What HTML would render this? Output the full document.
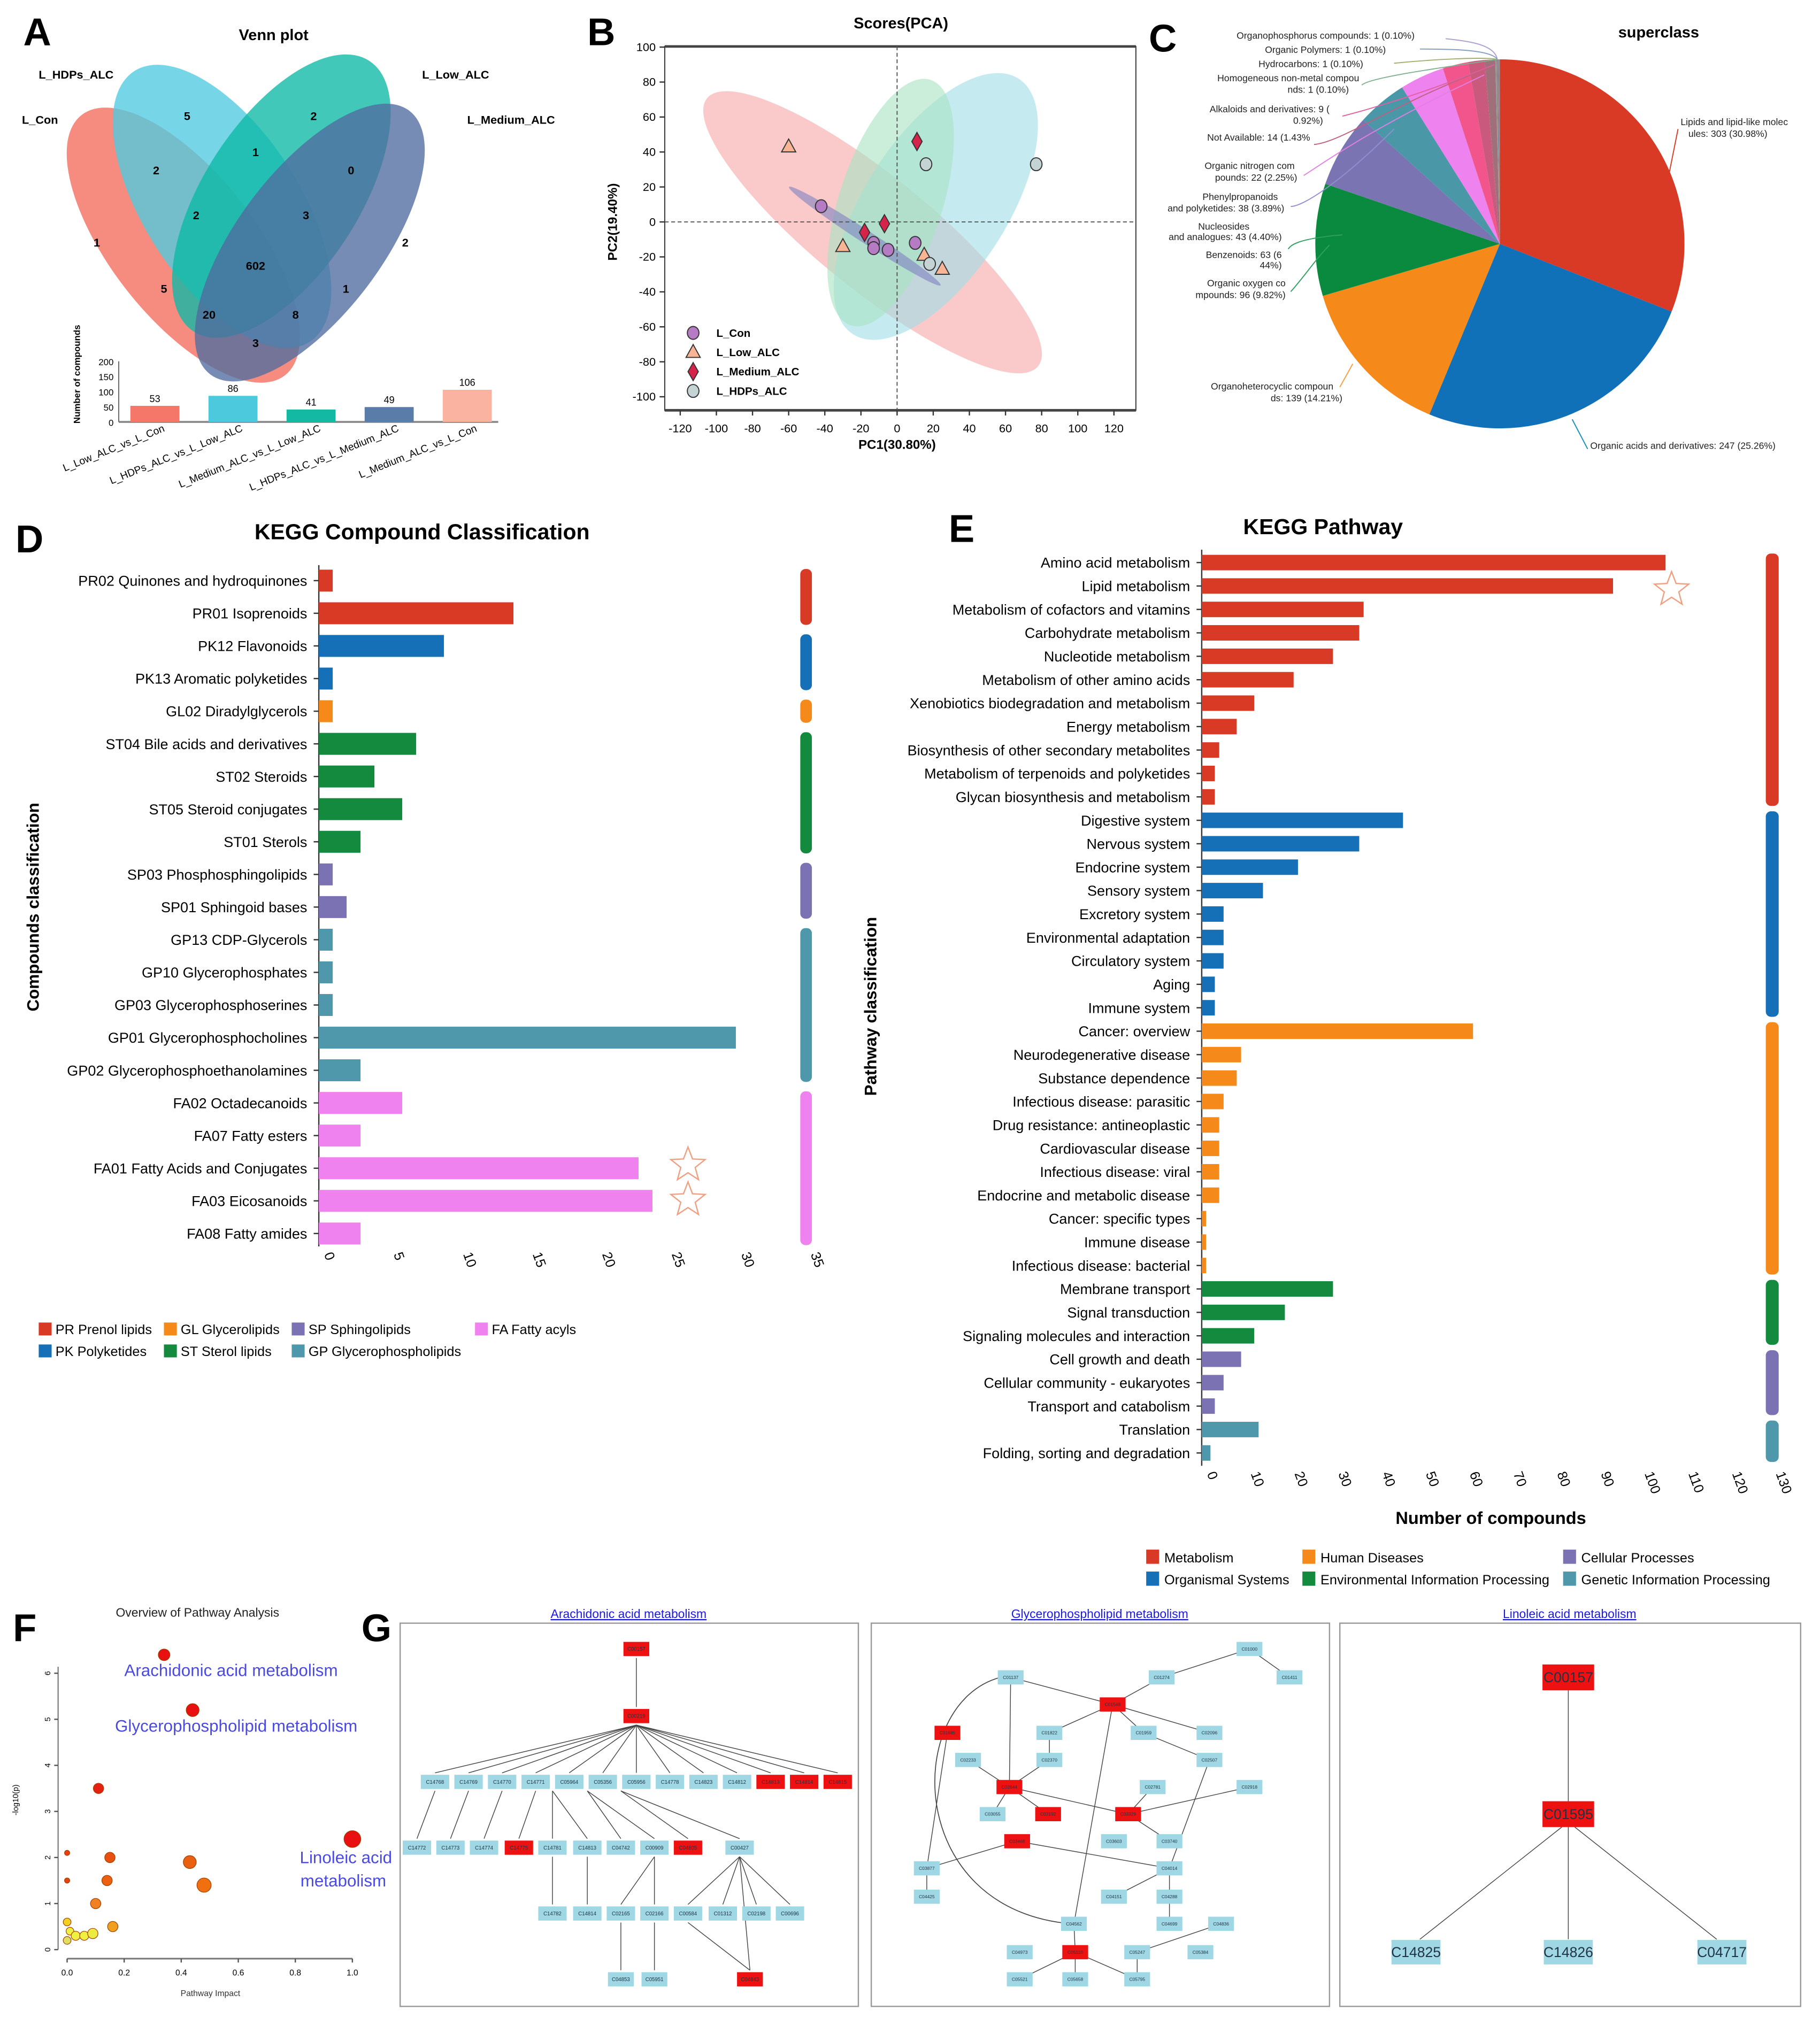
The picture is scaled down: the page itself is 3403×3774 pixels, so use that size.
<!DOCTYPE html>
<html><head><meta charset="utf-8">
<style>
html,body{margin:0;padding:0;background:#fff;}
svg{display:block;font-family:"Liberation Sans",Arial,sans-serif;}
</style></head>
<body>
<svg id="fig" xmlns="http://www.w3.org/2000/svg" width="3403" height="3774" viewBox="0 0 1410 1564" preserveAspectRatio="none">
<rect x="0" y="0" width="1410" height="1564" fill="#fff"/>
<text x="18" y="35" font-size="30" font-weight="bold">A</text>
<text x="455" y="35" font-size="30" font-weight="bold">B</text>
<text x="890" y="40" font-size="30" font-weight="bold">C</text>
<text x="12" y="428" font-size="30" font-weight="bold">D</text>
<text x="735" y="420" font-size="30" font-weight="bold">E</text>
<text x="10" y="1272" font-size="30" font-weight="bold">F</text>
<text x="280" y="1272" font-size="30" font-weight="bold">G</text>
<text x="212" y="31" font-size="12" font-weight="bold" text-anchor="middle">Venn plot</text>
<text x="698" y="22" font-size="12" font-weight="bold" text-anchor="middle">Scores(PCA)</text>
<text x="1285" y="29" font-size="12" font-weight="bold" text-anchor="middle">superclass</text>
<text x="327" y="418" font-size="17" font-weight="bold" text-anchor="middle">KEGG Compound Classification</text>
<text x="1025" y="414" font-size="17" font-weight="bold" text-anchor="middle">KEGG Pathway</text>
<g id="root"></g>
</svg>
<script>
const NS='http://www.w3.org/2000/svg';
const root=document.getElementById('root');
function mk(tag,attrs,parent){const e=document.createElementNS(NS,tag);for(const k in attrs)e.setAttribute(k,attrs[k]);(parent||root).appendChild(e);return e;}
function tx(x,y,s,size,extra,parent){const e=mk('text',Object.assign({x:x,y:y,'font-size':size},extra||{}),parent);e.textContent=s;return e;}

/* ---------------- Panel A: Venn ---------------- */
const vennSets=['L_Con','L_HDPs_ALC','L_Low_ALC','L_Medium_ALC'];
const vennColors=['#f26b5b','#4fcbe0','#0db8a5','#4f6b9f'];
const vennEll=[[142,190,128,56,52],[172,160,125,60,57],[218,152,125,60,-57],[240,188,128,56,-53]];
vennEll.forEach((e,i)=>{
  const el=mk('ellipse',{cx:e[0],cy:e[1],rx:e[2],ry:e[3],transform:`rotate(${e[4]} ${e[0]} ${e[1]})`,fill:vennColors[i],'fill-opacity':0.78});
  
  
});
[['L_Con',17,96],['L_HDPs_ALC',30,61],['L_Low_ALC',327,61],['L_Medium_ALC',362,96]].forEach(l=>{
  const t=tx(l[1],l[2],l[0],9,{'font-weight':'bold'});
  
  
});
const vennCounts=['5','2','1','2','0','1','2','3','2','602','5','1','20','8','3'];
const vennCountPos=[[145,93],[243,93],[198,121],[121,135],[272,135],[75,191],[152,170],[237,170],[314,191],[198,209],[127,227],[268,227],[162,247],[229,247],[198,269]];
vennCounts.forEach((c,i)=>{
  const t=tx(vennCountPos[i][0],vennCountPos[i][1],c,9,{'font-weight':'bold','text-anchor':'middle'});
  
  
});
/* Venn bar chart */
const vbCats=['L_Low_ALC_vs_L_Con','L_HDPs_ALC_vs_L_Low_ALC','L_Medium_ALC_vs_L_Low_ALC','L_HDPs_ALC_vs_L_Medium_ALC','L_Medium_ALC_vs_L_Con'];
const vbVals=[53,86,41,49,106];
const vbTicks=[0,50,100,150,200];
const vbColors=['#f4776a','#4cc9dc','#13b9a3','#5a7ca8','#f9b3a0'];
const vbX=i=>120+i*60.5, vbY=v=>327-v*0.235;
mk('line',{x1:92,y1:327,x2:386,y2:327,stroke:'#888','stroke-width':1.5});
mk('line',{x1:92,y1:vbY(200),x2:92,y2:327,stroke:'#666','stroke-width':0.8});
vbTicks.forEach(t=>{const e=tx(88,vbY(t)+3,String(t),7,{'text-anchor':'end'});});
const vyt=tx(0,0,'Number of compounds',7,{'font-weight':'bold','text-anchor':'middle',transform:'translate(62,290) rotate(-90)'});


vbVals.forEach((v,i)=>{
  const b=mk('rect',{x:vbX(i)-19,y:vbY(v),width:38,height:327-vbY(v),fill:vbColors[i]});
  
  
  const l=tx(vbX(i),vbY(v)-3,String(v),7.5,{'text-anchor':'middle'});
  
  
  const c=tx(0,0,vbCats[i],8,{'text-anchor':'end',transform:`translate(${vbX(i)+8},334) rotate(-22)`});
  
  
});

/* ---------------- Panel B: PCA ---------------- */
const pcaTicksX=[-120,-100,-80,-60,-40,-20,0,20,40,60,80,100,120];
const pcaTicksY=[100,80,60,40,20,0,-20,-40,-60,-80,-100];
const conX=[-42,-13,-13,-5,10], conY=[9,-12,-15,-16,-12];
const lowX=[-60,-30,15,25], lowY=[43,-14,-19,-27];
const medX=[11,-18,-7], medY=[46,-6,-1];
const hdpX=[16,77,18], hdpY=[33,33,-24];
const px=v=>695+v*1.4, py=v=>172-v*1.355;
mk('rect',{x:515,y:36,width:365,height:282,fill:'none',stroke:'#333','stroke-width':0.8});
mk('line',{x1:515,y1:36,x2:880,y2:36,stroke:'#444','stroke-width':2});
mk('line',{x1:515,y1:318,x2:880,y2:318,stroke:'#444','stroke-width':2});
[[676,180,165,44,39,'#f7a7a7','pca-ellipse-con-low'],[725,160,118,55,-57,'#9fdde8','pca-ellipse-hdps'],[690,157,100,40,-72,'#a6e2c2','pca-ellipse-medium'],[670,183,70,5,33,'#7f80c0','pca-ellipse-con']].forEach(e=>{
  const el=mk('ellipse',{cx:e[0],cy:e[1],rx:e[2],ry:e[3],transform:`rotate(${e[4]} ${e[0]} ${e[1]})`,fill:e[5],'fill-opacity':0.6});
  
  
});
mk('line',{x1:515,y1:py(0),x2:880,y2:py(0),stroke:'#555','stroke-dasharray':'3,2','stroke-width':0.8});
mk('line',{x1:px(0),y1:36,x2:px(0),y2:318,stroke:'#555','stroke-dasharray':'3,2','stroke-width':0.8});
pcaTicksX.forEach(t=>{mk('line',{x1:px(t),y1:318,x2:px(t),y2:322,stroke:'#333'});const e=tx(px(t),335,String(t),9,{'text-anchor':'middle'});});
pcaTicksY.forEach(t=>{mk('line',{x1:511,y1:py(t),x2:515,y2:py(t),stroke:'#333'});const e=tx(508,py(t)+3,String(t),9,{'text-anchor':'end'});});
const pxt=tx(695,348,'PC1(30.80%)',10,{'font-weight':'bold','text-anchor':'middle'});


const pyt=tx(0,0,'PC2(19.40%)',10,{'font-weight':'bold','text-anchor':'middle',transform:'translate(478,172) rotate(-90)'});


function marker(shape,x,y,fill,g){
  if(shape==='c')return mk('ellipse',{cx:x,cy:y,rx:4.5,ry:5,fill:fill,stroke:'#333','stroke-width':0.8},g);
  if(shape==='t')return mk('polygon',{points:`${x},${y-6} ${x-5.5},${y+4} ${x+5.5},${y+4}`,fill:fill,stroke:'#333','stroke-width':0.8},g);
  if(shape==='d')return mk('polygon',{points:`${x},${y-7} ${x-4},${y} ${x},${y+7} ${x+4},${y}`,fill:fill,stroke:'#333','stroke-width':0.8},g);
}
[[conX,conY,'c','#b57cc4','pca-point-l-con'],[lowX,lowY,'t','#f7b595','pca-point-l-low-alc'],[medX,medY,'d','#d6234a','pca-point-l-medium-alc'],[hdpX,hdpY,'c','#c4d4d4','pca-point-l-hdps-alc']].forEach(s=>{
  s[0].forEach((v,i)=>{const m=marker(s[2],px(v),py(s[1][i]),s[3]);});
});
[['L_Con','c','#b57cc4'],['L_Low_ALC','t','#f7b595'],['L_Medium_ALC','d','#d6234a'],['L_HDPs_ALC','c','#c4d4d4']].forEach((l,i)=>{
  const y=258+i*15;
  const m=marker(l[1],537,y,l[2]);
  
  
  const t=tx(555,y+3,l[0],8.5,{'font-weight':'bold'});
  
  
});

/* ---------------- Panel C: Pie ---------------- */
const pieCats=['Lipids and lipid-like molecules','Organic acids and derivatives','Organoheterocyclic compounds','Organic oxygen compounds','Benzenoids','Nucleosides and analogues','Phenylpropanoids and polyketides','Organic nitrogen compounds','Not Available','Alkaloids and derivatives','Homogeneous non-metal compounds','Hydrocarbons','Organic Polymers','Organophosphorus compounds'];
const pieVals=[30.98,25.26,14.21,9.82,6.44,4.40,3.89,2.25,1.43,0.92,0.10,0.10,0.10,0.10];
const pieColors=['#d83a26','#1070b8','#f5891a','#0a8a3e','#7b74b3','#4a97a8','#ee82ee','#f2558c','#c95a7e','#a0707a','#8aa0a0','#a08070','#8080a0','#909090'];
const pcx=1162,pcy=189,pr=143;
let acc=0;const total=pieVals.reduce((a,b)=>a+b,0);
pieVals.forEach((v,i)=>{
  const a0=acc/total*2*Math.PI-Math.PI/2;acc+=v;const a1=acc/total*2*Math.PI-Math.PI/2;
  const large=(a1-a0)>Math.PI?1:0;
  const d=`M${pcx},${pcy} L${pcx+pr*Math.cos(a0)},${pcy+pr*Math.sin(a0)} A${pr},${pr} 0 ${large} 1 ${pcx+pr*Math.cos(a1)},${pcy+pr*Math.sin(a1)} Z`;
  const p=mk('path',{d:d,fill:pieColors[i]});
  
  
});
const pieLabels=[[958,30,'Organophosphorus compounds: 1 (0.10%)','start'],[980,41,'Organic Polymers: 1 (0.10%)','start'],[975,52,'Hydrocarbons: 1 (0.10%)','start'],[1053,63,'Homogeneous non-metal compou','end'],[1045,72,'nds: 1 (0.10%)','end'],[1030,87,'Alkaloids and derivatives: 9 (','end'],[1025,96,'0.92%)','end'],[1015,109,'Not Available: 14 (1.43%','end'],[1003,131,'Organic nitrogen com','end'],[1005,140,'pounds: 22 (2.25%)','end'],[990,155,'Phenylpropanoids','end'],[995,164,'and polyketides: 38 (3.89%)','end'],[968,178,'Nucleosides','end'],[993,186,'and analogues: 43 (4.40%)','end'],[993,200,'Benzenoids: 63 (6','end'],[993,208,'44%)','end'],[996,222,'Organic oxygen co','end'],[996,231,'mpounds: 96 (9.82%)','end'],[1033,302,'Organoheterocyclic compoun','end'],[1040,311,'ds: 139 (14.21%)','end'],[1302,97,'Lipids and lipid-like molec','start'],[1308,106,'ules: 303 (30.98%)','start'],[1232,348,'Organic acids and derivatives: 247 (25.26%)','start']];
pieLabels.forEach(l=>{const t=tx(l[0],l[1],l[2],7.3,{'text-anchor':l[3],fill:'#222'});});
[['M1160,46 C1158,35 1140,32 1120,30','#b0a0d0'],['M1160,46 C1155,38 1120,38 1100,38','#88a0c0'],['M1160,46 C1150,44 1110,46 1080,49','#a0b070'],['M1160,46 C1120,52 1060,60 1055,66','#80b090'],['M1158,50 C1110,70 1060,85 1040,90','#e060a0'],['M1155,52 C1080,80 1040,110 1018,112','#c06080'],['M1150,58 C1060,100 1020,130 1010,136','#e080e0'],['M1080,100 C1040,140 1010,160 1000,160','#9090d0'],['M1040,182 C1005,185 1000,190 998,193','#30a060'],['M1030,190 C1020,200 1010,215 1000,226','#30a060'],['M1292,140 L1300,100','#d83a26'],['M1218,325 L1230,348','#1090c0'],['M1048,282 L1038,300','#f5a040']].forEach(p=>{const e=mk('path',{d:p[0],stroke:p[1],fill:'none','stroke-width':0.8});});

/* ---------------- Panel D ---------------- */
const dCats=['PR02 Quinones and hydroquinones','PR01 Isoprenoids','PK12 Flavonoids','PK13 Aromatic polyketides','GL02 Diradylglycerols','ST04 Bile acids and derivatives','ST02 Steroids','ST05 Steroid conjugates','ST01 Sterols','SP03 Phosphosphingolipids','SP01 Sphingoid bases','GP13 CDP-Glycerols','GP10 Glycerophosphates','GP03 Glycerophosphoserines','GP01 Glycerophosphocholines','GP02 Glycerophosphoethanolamines','FA02 Octadecanoids','FA07 Fatty esters','FA01 Fatty Acids and Conjugates','FA03 Eicosanoids','FA08 Fatty amides'];
const dVals=[1,14,9,1,1,7,4,6,3,1,2,1,1,1,30,3,6,3,23,24,3];
const dGroups=['PR','PR','PK','PK','GL','ST','ST','ST','ST','SP','SP','GP','GP','GP','GP','GP','FA','FA','FA','FA','FA'];
const dTicks=[0,5,10,15,20,25,30,35];
const dColor={PR:'#d83a26',PK:'#1570b8',GL:'#f5891a',ST:'#138a3e',SP:'#7b72b3',GP:'#4f98ac',FA:'#ef82ee'};
const xD=v=>247+v*10.77, yD=i=>450+i*25.3;
mk('line',{x1:247,y1:438,x2:247,y2:966,stroke:'#333','stroke-width':1});
dCats.forEach((c,i)=>{
  const b=mk('rect',{x:247,y:yD(i)-8.5,width:xD(dVals[i])-247,height:17,fill:dColor[dGroups[i]]});
  
  
  mk('line',{x1:243,y1:yD(i),x2:247,y2:yD(i),stroke:'#333'});
  const t=tx(238,yD(i)+4,c,11.2,{'text-anchor':'end'});
  
  
});
dTicks.forEach(t=>{const e=tx(0,0,String(t),10.5,{transform:`translate(${xD(t)+4},972) rotate(70)`});});
{let s=0;for(let i=1;i<=dGroups.length;i++){if(i===dGroups.length||dGroups[i]!==dGroups[s]){const r=mk('rect',{x:620,y:yD(s)-9,width:9,height:yD(i-1)-yD(s)+18,rx:4,fill:dColor[dGroups[s]]});s=i;}}}
const dyt=tx(0,0,'Compounds classification',13,{'font-weight':'bold','text-anchor':'middle',transform:'translate(30,703) rotate(-90)'});


function star(cx,cy,r,name){let pts=[];for(let k=0;k<10;k++){const a=-Math.PI/2+k*Math.PI/5;const rr=k%2?r*0.42:r;pts.push((cx+rr*Math.cos(a)).toFixed(1)+','+(cy+rr*Math.sin(a)).toFixed(1));}const s=mk('polygon',{points:pts.join(' '),fill:'none',stroke:'#f0a080','stroke-width':1});}
star(533,903,14,'star-fa01');star(533,930,14,'star-fa03');
[['PR Prenol lipids','PR',30,1034],['GL Glycerolipids','GL',127,1034],['SP Sphingolipids','SP',226,1034],['FA Fatty acyls','FA',368,1034],['PK Polyketides','PK',30,1051],['ST Sterol lipids','ST',127,1051],['GP Glycerophospholipids','GP',226,1051]].forEach(l=>{
  const r=mk('rect',{x:l[2],y:l[3]-9,width:10,height:10,fill:dColor[l[1]]});
  
  
  const t=tx(l[2]+13,l[3],l[0],10.5);
  
  
});

/* ---------------- Panel E ---------------- */
const eCats=['Amino acid metabolism','Lipid metabolism','Metabolism of cofactors and vitamins','Carbohydrate metabolism','Nucleotide metabolism','Metabolism of other amino acids','Xenobiotics biodegradation and metabolism','Energy metabolism','Biosynthesis of other secondary metabolites','Metabolism of terpenoids and polyketides','Glycan biosynthesis and metabolism','Digestive system','Nervous system','Endocrine system','Sensory system','Excretory system','Environmental adaptation','Circulatory system','Aging','Immune system','Cancer: overview','Neurodegenerative disease','Substance dependence','Infectious disease: parasitic','Drug resistance: antineoplastic','Cardiovascular disease','Infectious disease: viral','Endocrine and metabolic disease','Cancer: specific types','Immune disease','Infectious disease: bacterial','Membrane transport','Signal transduction','Signaling molecules and interaction','Cell growth and death','Cellular community - eukaryotes','Transport and catabolism','Translation','Folding, sorting and degradation'];
const eVals=[106,94,37,36,30,21,12,8,4,3,3,46,36,22,14,5,5,5,3,3,62,9,8,5,4,4,4,4,1,1,1,30,19,12,9,5,3,13,2];
const eGroups=['M','M','M','M','M','M','M','M','M','M','M','O','O','O','O','O','O','O','O','O','H','H','H','H','H','H','H','H','H','H','H','E','E','E','C','C','C','G','G'];
const eTicks=[0,10,20,30,40,50,60,70,80,90,100,110,120,130];
const eColor={M:'#d83a26',O:'#1570b8',H:'#f5891a',E:'#138a3e',C:'#7b72b3',G:'#4f98ac'};
const xE=v=>931+v*3.39, yE=i=>436+i*18.16;
mk('line',{x1:931,y1:426,x2:931,y2:1136,stroke:'#333','stroke-width':1});
eCats.forEach((c,i)=>{
  const b=mk('rect',{x:931,y:yE(i)-6,width:xE(eVals[i])-931,height:12,fill:eColor[eGroups[i]]});
  
  
  mk('line',{x1:927,y1:yE(i),x2:931,y2:yE(i),stroke:'#333'});
  const t=tx(922,yE(i)+4,c,11.2,{'text-anchor':'end'});
  
  
});
eTicks.forEach(t=>{const e=tx(0,0,String(t),10.5,{transform:`translate(${xE(t)+4},1142) rotate(70)`});});
{let s=0;for(let i=1;i<=eGroups.length;i++){if(i===eGroups.length||eGroups[i]!==eGroups[s]){const r=mk('rect',{x:1368,y:yE(s)-7,width:10,height:yE(i-1)-yE(s)+14,rx:4,fill:eColor[eGroups[s]]});s=i;}}}
star(1295,457,14,'star-lipid');
const ext=tx(1155,1181,'Number of compounds',13.5,{'font-weight':'bold','text-anchor':'middle'});


const eyt=tx(0,0,'Pathway classification',13,{'font-weight':'bold','text-anchor':'middle',transform:'translate(679,780) rotate(-90)'});


[['Metabolism','M',888,1211],['Human Diseases','H',1009,1211],['Cellular Processes','C',1211,1211],['Organismal Systems','O',888,1228],['Environmental Information Processing','E',1009,1228],['Genetic Information Processing','G',1211,1228]].forEach(l=>{
  const r=mk('rect',{x:l[2],y:l[3]-10,width:10,height:11,fill:eColor[l[1]]});
  
  
  const t=tx(l[2]+14,l[3],l[0],10.5);
  
  
});

/* ---------------- Panel F ---------------- */
const fImpact=[0.34,0.44,0.11,1.0,0.0,0.15,0.43,0.48,0.0,0.14,0.10,0.16,0.0,0.01,0.03,0.06,0.09,0.0];
const fLogP=[6.4,5.2,3.5,2.4,2.1,2.0,1.9,1.4,1.5,1.5,1.0,0.5,0.6,0.4,0.3,0.3,0.35,0.2];
const fSize=[4.5,5,4,6.5,2,4,5,5.5,2,4,4,4,3,3,3.5,3.5,4,3];
const fColor=['#e81010','#e81010','#e62010','#e81010','#e84010','#e85010','#e86010','#f07010','#e84010','#ec6010','#f08020','#f0a020','#f0d020','#f0f040','#f0f040','#f0f040','#ecec40','#e0e060'];
const fTicksX=[0,0.2,0.4,0.6,0.8,1.0], fTicksY=[0,1,2,3,4,5,6];
const fx=v=>52+v*221, fy=v=>1511-v*35.7;
mk('line',{x1:45,y1:fy(6)-5,x2:45,y2:1511,stroke:'#555','stroke-width':0.7});
mk('line',{x1:52,y1:1518,x2:273,y2:1518,stroke:'#777','stroke-width':1.2});
fTicksY.forEach(t=>{mk('line',{x1:42,y1:fy(t),x2:45,y2:fy(t),stroke:'#555'});const e=tx(0,0,String(t),6,{'text-anchor':'middle',transform:`translate(39,${fy(t)}) rotate(-90)`});});
fTicksX.forEach(t=>{mk('line',{x1:fx(t),y1:1518,x2:fx(t),y2:1521,stroke:'#555'});const e=tx(fx(t),1531,t.toFixed(1),6.5,{'text-anchor':'middle'});});
fImpact.forEach((v,i)=>{const c=mk('circle',{cx:fx(v),cy:fy(fLogP[i]),r:fSize[i],fill:fColor[i],stroke:'#a04000','stroke-width':0.5});});
[[153,1253,'Overview of Pathway Analysis',9.5,'#222','middle'],[163,1547,'Pathway Impact',6.5,'#333','middle'],[179,1299,'Arachidonic acid metabolism',13,'#4a4ae0','middle'],[183,1342,'Glycerophospholipid metabolism',13,'#4a4ae0','middle'],[268,1444,'Linoleic acid',13,'#4a4ae0','middle'],[266,1462,'metabolism',13,'#4a4ae0','middle']].forEach(l=>{const t=tx(l[0],l[1],l[2],l[3],{fill:l[4],'text-anchor':l[5]});});
const fyt=tx(0,0,'-log10(p)',6,{'text-anchor':'middle',transform:'translate(14,1395) rotate(-90)'});



/* ---------------- Panel G ---------------- */
[[310,665,'Arachidonic acid metabolism',487],[675,1030,'Glycerophospholipid metabolism',852],[1038,1395,'Linoleic acid metabolism',1216]].forEach((b,i)=>{
  const r=mk('rect',{x:b[0],y:1258,width:b[1]-b[0],height:297,fill:'#fff',stroke:'#999','stroke-width':1});
  
  
  const t=tx(b[3],1254,b[2],9.5,{'text-anchor':'middle',fill:'#1a1ae0','text-decoration':'underline'});
  
  
});
function node(x,y,w,h,red,label,fs){
  const r=mk('rect',{x:x-w/2,y:y-h/2,width:w,height:h,fill:red?'#ee1111':'#9fd8e4'});
  
  
  const t=tx(x,y+fs*0.35,label,fs,{'text-anchor':'middle',fill:'#234'});
  
  
}
function edge(x1,y1,x2,y2){mk('line',{x1:x1,y1:y1,x2:x2,y2:y2,stroke:'#444','stroke-width':0.6});}
/* G1 */
const g1Row1=['C14768','C14769','C14770','C14771','C05964','C05356','C05956','C14778','C14823','C14812','C14813','C14814','C14815'];
edge(493,1285,493,1323);
g1Row1.forEach((n,i)=>{const x=337+i*26;edge(493,1337,x,1374);});
const g1Row2=['C14772','C14773','C14774','C14775','C14781','C14813','C04742','C00909','C04805','C00427'];
const g1Row2x=[323,349,375,402,428,455,481,507,533,573];
g1Row2x.forEach((x,i)=>{edge(i<4?337+i*26:(i<6?428:(i<8?455:481)),1388,x,1425);});
const g1Row3x=[428,455,481,507,533,560,586,612];
g1Row3x.forEach((x,i)=>edge(i<2?x:(i<4?507:573),1439,x,1476));
[481,507].forEach(x=>edge(x,1490,x,1527));edge(533,1490,581,1527);edge(573,1439,581,1527);
node(493,1278,20,11,true,'C00157',4);node(493,1330,20,11,true,'C00219',4);
g1Row1.forEach((n,i)=>node(337+i*26,1381,22,11,i>=10,n,4));
g1Row2.forEach((n,i)=>node(g1Row2x[i],1432,22,11,i===3||i===8,n,4));
['C14782','C14814','C02165','C02166','C00584','C01312','C02198','C00696'].forEach((n,i)=>node(g1Row3x[i],1483,22,11,false,n,4));
node(481,1534,20,11,false,'C04853',4);node(507,1534,20,11,false,'C05951',4);node(581,1534,20,11,true,'C04843',4);
/* G2 */
const g2=[[968,1278,0],[783,1300,0],[900,1300,0],[999,1300,0],[862,1321,1],[734,1343,1],[813,1343,0],[886,1343,0],[937,1343,0],[750,1364,0],[813,1364,0],[937,1364,0],[782,1385,1],[893,1385,0],[968,1385,0],[769,1406,0],[812,1406,1],[874,1406,1],[788,1427,1],[863,1427,0],[906,1427,0],[718,1448,0],[906,1448,0],[863,1470,0],[906,1470,0],[718,1470,0],[832,1491,0],[906,1491,0],[946,1491,0],[790,1513,0],[833,1513,1],[881,1513,0],[930,1513,0],[790,1534,0],[833,1534,0],[881,1534,0]];
[[0,3],[0,2],[2,4],[1,4],[4,7],[4,8],[4,6],[6,10],[7,11],[10,12],[9,12],[12,15],[12,16],[12,17],[14,17],[17,20],[18,21],[18,22],[22,23],[22,24],[24,27],[26,30],[30,33],[30,34],[30,35],[28,31],[31,35],[1,12],[5,21],[4,26],[11,22],[13,17],[21,25]].forEach(e=>{const a=g2[e[0]],b=g2[e[1]];edge(a[0],a[1],b[0],b[1]);});
const g2Path=mk('path',{d:'M775,1300 C700,1320 700,1480 830,1491',fill:'none',stroke:'#444','stroke-width':0.7});


g2.forEach((n,i)=>node(n[0],n[1],20,11,n[2]===1,'C'+String(1000+i*137).padStart(5,'0'),3.5));
/* G3 */
edge(1215,1310,1215,1396);edge(1210,1416,1100,1503);edge(1215,1416,1215,1503);edge(1220,1416,1330,1503);
node(1215,1300,40,20,true,'C00157',11);node(1215,1406,40,20,true,'C01595',11);
node(1097,1513,38,19,false,'C14825',11);node(1215,1513,38,19,false,'C14826',11);node(1334,1513,38,19,false,'C04717',11);
</script>
</body></html>
